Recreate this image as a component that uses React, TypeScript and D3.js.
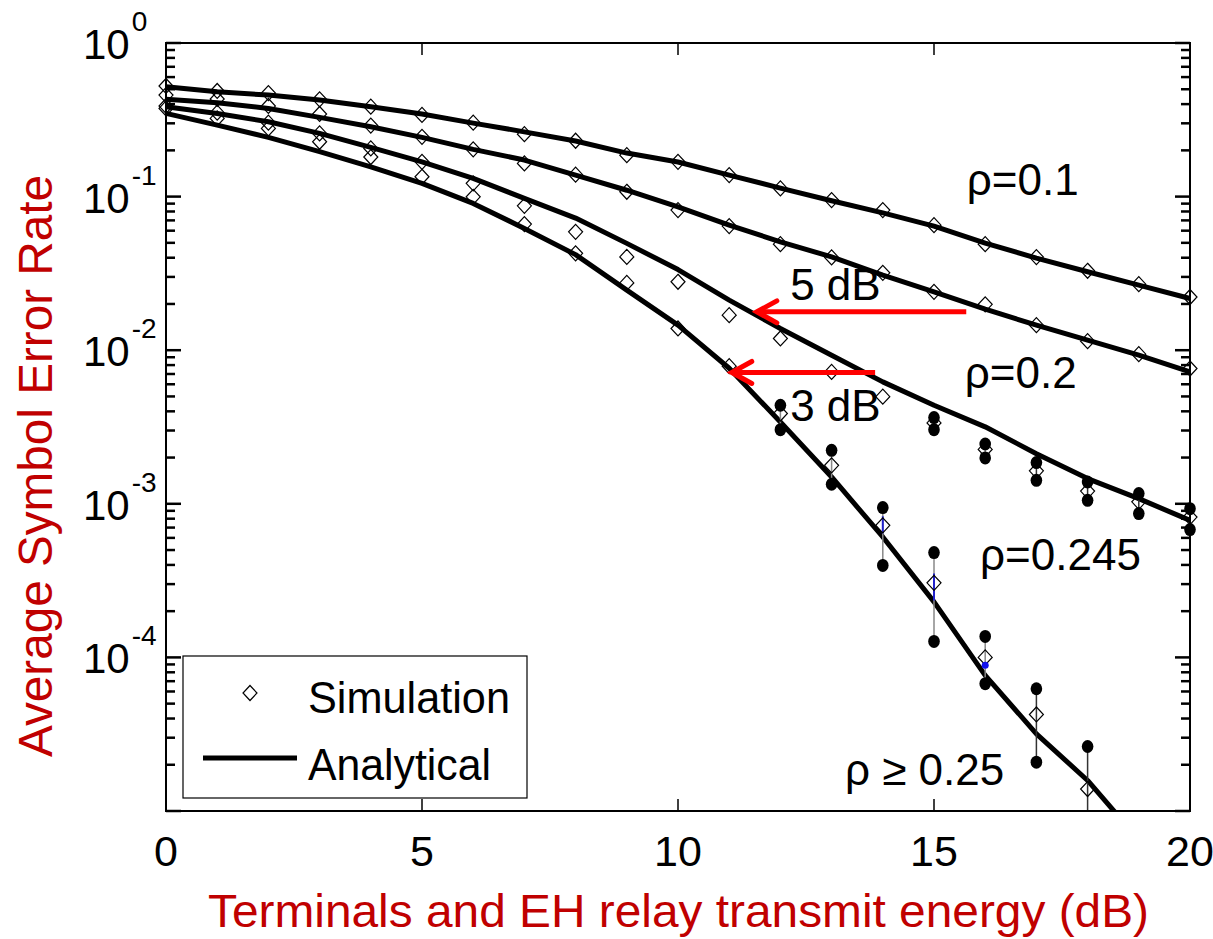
import React from 'react';
import * as d3 from 'd3';

// x axis: terminals and EH relay transmit energy (dB)
const snrDb = [0, 1, 2, 3, 4, 5, 6, 7, 8, 9, 10, 11, 12, 13, 14, 15, 16, 17, 18, 19, 20];

// analytical curves (solid lines)
const analytic01 = [0.519, 0.482, 0.458, 0.425, 0.385, 0.345, 0.301, 0.264, 0.230, 0.192, 0.168, 0.138, 0.1136, 0.0939, 0.0784, 0.0643, 0.0498, 0.0398, 0.0324, 0.0265, 0.0217];
const analytic02 = [0.430, 0.408, 0.375, 0.328, 0.285, 0.243, 0.203, 0.173, 0.138, 0.110, 0.0858, 0.0652, 0.0508, 0.0405, 0.0308, 0.0240, 0.0185, 0.01455, 0.01162, 0.00928, 0.00722];
const analytic0245 = [0.385, 0.348, 0.307, 0.258, 0.209, 0.1685, 0.1314, 0.0973, 0.0725, 0.0496, 0.0335, 0.0212, 0.01385, 0.00928, 0.00622, 0.00438, 0.00317, 0.00212, 0.00146, 0.00108, 0.00078];
const analytic025 = [0.348, 0.292, 0.243, 0.196, 0.1563, 0.122, 0.0903, 0.0621, 0.0419, 0.0246, 0.01455, 0.00763, 0.00341, 0.001495, 0.000608, 0.00023, 7.63e-5, 3.18e-5, 1.58e-5, 6.5e-6, 2.6e-6];

// simulation points (diamonds)
const sim01 = [0.525, 0.487, 0.472, 0.430, 0.385, 0.340, 0.303, 0.255, 0.231, 0.186, 0.1685, 0.138, 0.113, 0.0949, 0.0817, 0.0652, 0.0490, 0.0404, 0.0329, 0.0269, 0.0222];
const sim02 = [0.458, 0.432, 0.389, 0.345, 0.290, 0.245, 0.203, 0.1645, 0.139, 0.1075, 0.0817, 0.0643, 0.0490, 0.0402, 0.0319, 0.0240, 0.0199, 0.01455, 0.01145, 0.00942, 0.0076];
const sim0245 = [0.389, 0.352, 0.303, 0.258, 0.206, 0.1685, 0.122, 0.0871, 0.059, 0.0405, 0.0279, 0.0169, 0.01192, 0.00722, 0.00498, 0.00336, 0.00226, 0.00164, 0.00121, 0.00103, 0.00082];
const sim025 = [0.375, 0.323, 0.278, 0.2275, 0.181, 0.1346, 0.0997, 0.0662, 0.0427, 0.0274, 0.01385, 0.00787, 0.00387, 0.00178, 0.000724, 0.000306, 1.0e-4, 4.25e-5, 1.39e-5, null, null];

// error bars (filled dots at both ends)
const errX0245 = [15, 16, 17, 18, 19, 20];
const errHi0245 = [0.00364, 0.00245, 0.001855, 0.001387, 0.001165, 0.00093];
const errLo0245 = [0.00304, 0.00199, 0.001422, 0.001054, 0.000864, 0.000679];
const errX025 = [12, 13, 14, 15, 16, 17, 18];
const errHi025 = [0.00438, 0.00223, 0.000945, 0.000481, 0.000137, 6.25e-5, 2.63e-5];
const errLo025 = [0.00304, 0.00134, 0.000397, 0.000127, 6.74e-5, 2.08e-5, 5e-6];
const blueBarX = [14, 15];
const blueBarHi = [8.29e-4, 3.52e-4];
const blueBarLo = [6.42e-4, 2.35e-4];
const blueDotX = [16];
const blueDotY = [8.9e-5];

// ticks
const xTicks = [0, 5, 10, 15, 20];
const yLabelExps = [0, -1, -2, -3, -4];

// annotations [dB, SER]
const labelTexts = ['ρ=0.1', 'ρ=0.2', 'ρ=0.245', 'ρ ≥ 0.25', '5 dB', '3 dB'];
const labelX = [15.64, 15.6, 15.9, 13.26, 12.19, 12.19];
const labelY = [0.1023, 0.005655, 0.000369, 1.466e-5, 0.02117, 0.003447];
const arrowFromX = [15.63, 13.85];
const arrowToX = [11.54, 11.05];
const arrowY = [0.01777, 0.00716];

const width = 1213;
const height = 939;
const marginLeft = 166;
const marginRight = 23;
const marginTop = 43;
const marginBottom = 128;
const font = 'Liberation Sans, Arial, Helvetica, sans-serif';
const red = '#c00000';

const App = () => {
    const xScale = d3.scaleLinear()
        .domain([0, 20])
        .range([marginLeft, width - marginRight]);

    const yScale = d3.scaleLog()
        .domain([1e-5, 1])
        .range([height - marginBottom, marginTop]);

    const x0 = xScale(0);
    const x1 = xScale(20);
    const y0 = yScale(1e-5);
    const y1 = yScale(1);

    const line = d3.line<[number, number | null]>()
        .defined(d => d[1] != null)
        .x(d => xScale(d[0]))
        .y(d => yScale(d[1] as number));

    const analytic = [analytic01, analytic02, analytic0245, analytic025];
    const sims = [sim01, sim02, sim0245, sim025];

    const diamond = (cx: number, cy: number) =>
        `M${cx},${cy - 7.5}L${cx + 7},${cy}L${cx},${cy + 7.5}L${cx - 7},${cy}Z`;

    const yTicks = yScale.ticks();
    const isMajor = (v: number) => Math.abs(Math.log10(v) - Math.round(Math.log10(v))) < 1e-6;

    const errors = [
        { xs: errX0245, hi: errHi0245, lo: errLo0245 },
        { xs: errX025, hi: errHi025, lo: errLo025 },
    ];

    return (
        <svg width={width} height={height} style={{ position: 'absolute', left: 0, top: 0, background: '#fff' }}
            fontFamily={font}>
            <defs>
                <clipPath id="plot-clip">
                    <rect x={x0 - 20} y={y1} width={x1 - x0 + 40} height={y0 - y1} />
                </clipPath>
            </defs>
            <rect width={width} height={height} fill="#fff" />

            {/* ticks */}
            {yTicks.map((v, i) => {
                const len = isMajor(v) ? 15 : 9;
                const y = yScale(v);
                return (
                    <g key={`yt-${i}`} stroke="#000" strokeWidth={2.5}>
                        <line x1={x0} x2={x0 + len} y1={y} y2={y} />
                        <line x1={x1} x2={x1 - len} y1={y} y2={y} />
                    </g>
                );
            })}
            {xTicks.map(t => (
                <g key={`xt-${t}`} stroke="#000" strokeWidth={1.5}>
                    <line x1={xScale(t)} x2={xScale(t)} y1={y0} y2={y0 - 12} />
                    <line x1={xScale(t)} x2={xScale(t)} y1={y1} y2={y1 + 12} />
                </g>
            ))}

            <g clipPath="url(#plot-clip)">
                {/* analytical lines */}
                {analytic.map((vals, i) => (
                    <path key={`an-${i}`}
                        d={line(snrDb.map((x, j) => [x, vals[j]] as [number, number])) || ''}
                        fill="none" stroke="#000" strokeWidth={5} strokeLinejoin="round" />
                ))}

                {/* error bars */}
                {errors.map((e, k) => e.xs.map((x, j) => (
                    <line key={`eb-${k}-${j}`} x1={xScale(x)} x2={xScale(x)}
                        y1={yScale(e.hi[j])} y2={yScale(e.lo[j])}
                        stroke={x >= 17 ? '#333' : '#888'} strokeWidth={1.5} />
                )))}
                {blueBarX.map((x, j) => (
                    <line key={`bb-${j}`} x1={xScale(x)} x2={xScale(x)}
                        y1={yScale(blueBarHi[j])} y2={yScale(blueBarLo[j])}
                        stroke="#2222cc" strokeWidth={2} />
                ))}

                {/* simulation diamonds */}
                {sims.map((vals, i) => snrDb.map((x, j) => vals[j] == null ? null : (
                    <path key={`sim-${i}-${j}`} d={diamond(xScale(x), yScale(vals[j] as number))}
                        fill="none" stroke="#000" strokeWidth={1.2} />
                )))}

                {/* error bar end dots */}
                {errors.map((e, k) => e.xs.map((x, j) => (
                    <g key={`ed-${k}-${j}`} fill="#000">
                        <ellipse cx={xScale(x)} cy={yScale(e.hi[j])} rx={5.8} ry={6.5} />
                        <ellipse cx={xScale(x)} cy={yScale(e.lo[j])} rx={5.8} ry={6.5} />
                    </g>
                )))}
                {blueDotX.map((x, j) => (
                    <circle key={`bd-${j}`} cx={xScale(x)} cy={yScale(blueDotY[j])} r={3.5} fill="#1010ee" />
                ))}
            </g>

            {/* axes box */}
            <rect x={x0} y={y1} width={x1 - x0} height={y0 - y1} fill="none" stroke="#000" strokeWidth={2} />

            {/* y tick labels */}
            {yLabelExps.map(p => (
                <text key={`yl-${p}`} x={83} y={yScale(Math.pow(10, p)) + 16} fontSize={42} fill="#000">
                    10<tspan dx={2} dy={-28} fontSize={28}>{p}</tspan>
                </text>
            ))}

            {/* x tick labels */}
            {xTicks.map(t => (
                <text key={`xl-${t}`} x={xScale(t)} y={866} fontSize={43} textAnchor="middle" fill="#000">
                    {t}
                </text>
            ))}

            {/* axis titles */}
            <text x={208} y={927} fontSize={46} fill={red} textLength={941} lengthAdjust="spacingAndGlyphs">
                Terminals and EH relay transmit energy (dB)
            </text>
            <text transform="translate(52,757) rotate(-90)" fontSize={48} fill={red}
                textLength={582} lengthAdjust="spacingAndGlyphs">
                Average Symbol Error Rate
            </text>

            {/* arrows */}
            {arrowY.map((v, i) => {
                const y = yScale(v);
                const tx = xScale(arrowToX[i]);
                return (
                    <g key={`ar-${i}`} stroke="#ff0000" strokeWidth={5} fill="none" strokeLinecap="round">
                        <line x1={xScale(arrowFromX[i])} x2={tx} y1={y} y2={y} strokeLinecap="butt" />
                        <polyline points={`${tx + 20},${y - 11} ${tx},${y} ${tx + 20},${y + 11}`} />
                    </g>
                );
            })}

            {/* curve labels */}
            {labelTexts.map((t, i) => (
                <text key={`lb-${i}`} x={xScale(labelX[i])} y={yScale(labelY[i])} fontSize={44} fill="#000">
                    {t}
                </text>
            ))}

            {/* legend */}
            <g>
                <rect x={183} y={656} width={344} height={142} fill="#fff" stroke="#000" strokeWidth={1.2} />
                <path d={diamond(250, 693)} fill="none" stroke="#000" strokeWidth={1.2} />
                <text x={308} y={713} fontSize={44} fill="#000" textLength={202} lengthAdjust="spacingAndGlyphs">
                    Simulation
                </text>
                <line x1={203} x2={297} y1={758} y2={758} stroke="#000" strokeWidth={5} />
                <text x={308} y={780} fontSize={44} fill="#000" textLength={183} lengthAdjust="spacingAndGlyphs">
                    Analytical
                </text>
            </g>
        </svg>
    );
};

export default App;
